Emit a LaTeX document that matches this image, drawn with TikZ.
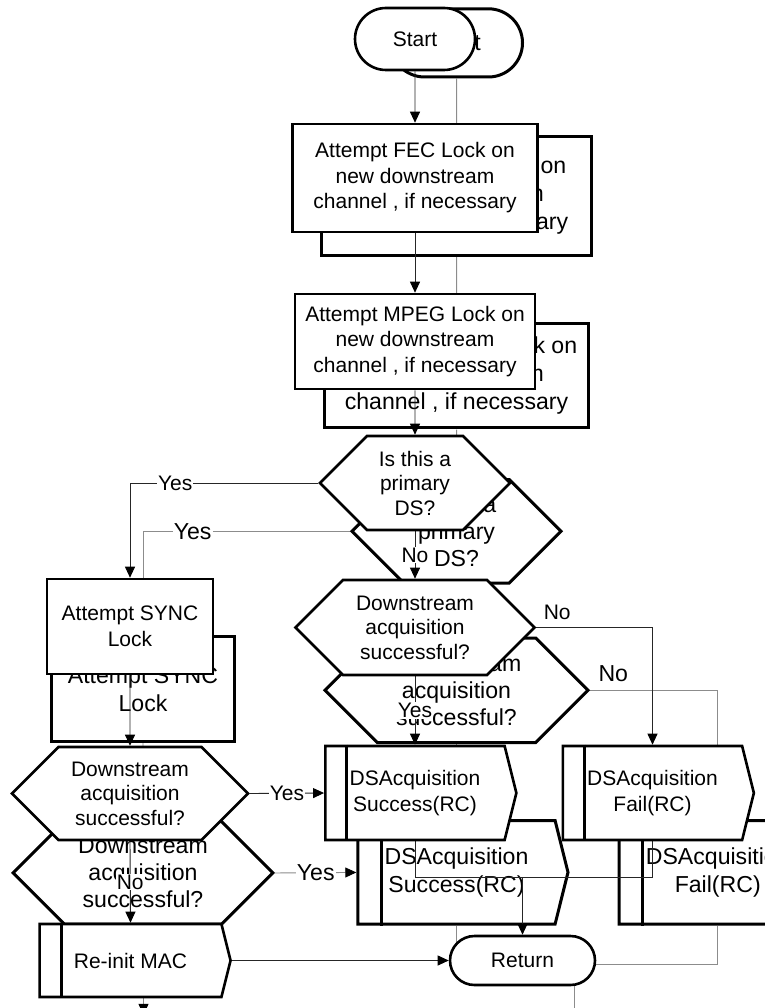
\documentclass[tikz,border=0pt]{standalone}
\usepackage{fontspec}
\setmainfont{Liberation Sans}
\usetikzlibrary{arrows.meta, calc, shapes.misc, shapes.symbols}

\pgfdeclarelayer{ghostlines}
\pgfdeclarelayer{ghostshapes}
\pgfdeclarelayer{mainlines}
\pgfdeclarelayer{mainshapes}
\pgfsetlayers{ghostlines,ghostshapes,mainlines,mainshapes,main}

\tikzset{
  chart/.style={draw=black, line width=2.6pt, fill=white, align=center, inner sep=0pt,
    font=\fontsize{21}{25.5}\selectfont},
  terminal/.style={chart, rounded rectangle},
  procbox/.style={chart, rectangle},
  decision/.style={chart, signal, signal to=west and east, signal pointer angle=90,
    font=\fontsize{21}{24.5}\selectfont},
  callbox/.style={chart, signal, signal to=east, signal pointer angle=152},
  flowline/.style={draw=black!85, line width=0.9pt},
  flowarrow/.style={flowline, -{Triangle[length=11pt,width=10pt,color=black]}},
  flowlabel/.style={font=\fontsize{21}{25}\selectfont, fill=white, inner sep=1pt},
}

% #1 name prefix, #2 layer of the shapes, #3 layer of the lines
\newcommand{\dsflow}[3]{%
  \begin{pgfonlayer}{#2}
  \node[terminal, minimum width=120, minimum height=62] (#1start) at (415,39) {Start};
  \node[procbox, minimum width=245, minimum height=108] (#1fec) at (415,178)
    {Attempt FEC Lock on\\new downstream\\channel , if necessary};
  \node[procbox, minimum width=240, minimum height=95] (#1mpeg) at (415,341.5)
    {Attempt MPEG Lock on\\new downstream\\channel , if necessary};
  \node[decision, minimum width=190, minimum height=94] (#1prim) at (415,483)
    {Is this a\\primary\\DS?};
  \node[procbox, minimum width=166, minimum height=95] (#1sync) at (130,626.5)
    {Attempt SYNC\\Lock};
  \node[decision, minimum width=239, minimum height=95] (#1acqa) at (415,627.5)
    {Downstream\\acquisition\\successful?};
  \node[decision, minimum width=236, minimum height=93] (#1acqb) at (130,793.5)
    {Downstream\\acquisition\\successful?};
  \node[callbox, minimum width=191, minimum height=94] (#1succ) at (415,793)
    {DSAcquisition\\Success(RC)};
  \node[callbox, minimum width=191, minimum height=94] (#1fail) at (652.5,793)
    {DSAcquisition\\Fail(RC)};
  \node[callbox, minimum width=191, minimum height=73] (#1reinit) at (130.5,960.5)
    {Re-init MAC};
  \node[terminal, minimum width=145, minimum height=49] (#1ret) at (522.5,960.5) {Return};
  \foreach \b in {succ,fail,reinit}
    \draw[line width=2.6pt] ($(#1\b.north west)!0.125!(#1\b.north east)$)
      -- ($(#1\b.south west)!0.125!(#1\b.south east)$);
  \end{pgfonlayer}
  \coordinate (#1merge) at (522.5,877);
  \begin{pgfonlayer}{#3}
  \draw[flowarrow] (#1start) -- (#1fec);
  \draw[flowarrow] (#1fec) -- (#1mpeg);
  \draw[flowarrow] (#1mpeg) -- (#1prim);
  \draw[flowarrow] (#1prim.west) -| node[flowlabel, pos=0.38] (#1yesa) {Yes} (#1sync.north);
  \draw[flowarrow] (#1prim.south) -- node[flowlabel] (#1noa) {No} (#1acqa.north);
  \draw[flowarrow] (#1acqa.east) -| node[flowlabel, fill=none, pos=0.09, above=6pt] (#1nob) {No} (#1fail.north);
  \draw[flowarrow] (#1acqa.south) -- node[flowlabel] (#1yesb) {Yes} (#1succ.north);
  \draw[flowarrow] (#1sync) -- (#1acqb);
  \draw[flowarrow] (#1acqb.east) -- node[flowlabel] (#1yesc) {Yes} (#1succ.west);
  \draw[flowarrow] (#1acqb.south) -- node[flowlabel] (#1noc) {No} (#1reinit.north);
  \draw[flowarrow] (#1reinit.east) -- (#1ret.west);
  \draw[flowline] (#1fail.south) |- (#1merge);
  \draw[flowarrow] (#1succ.south) |- (#1merge) -- (#1ret.north);
  \end{pgfonlayer}
}

\begin{document}
\begin{tikzpicture}[x=1pt, y=-1pt]
  \useasboundingbox (0,0) rectangle (764,1008);
  \clip (0,0) rectangle (764,1008);
  % the second, larger copy behind
  \begin{scope}[scale=1.1, transform shape, chart/.append style={line width=3pt},
      flowline/.append style={draw=black!45}]
    \dsflow{g}{ghostshapes}{ghostlines}
  \end{scope}
  \dsflow{m}{mainshapes}{mainlines}
\end{tikzpicture}
\end{document}
